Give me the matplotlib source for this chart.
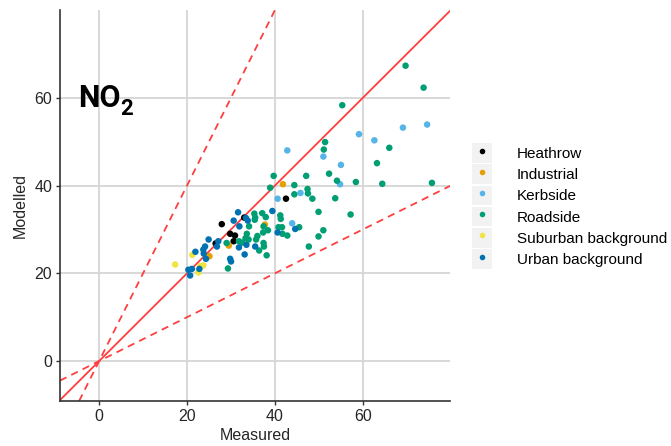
import numpy as np
import matplotlib
matplotlib.use("Agg")
import matplotlib.pyplot as plt
from matplotlib.patches import Rectangle
from matplotlib.lines import Line2D
from matplotlib.legend_handler import HandlerTuple

plt.rcParams['font.family'] = ['Liberation Sans', 'DejaVu Sans']

# measured / modelled NO2 by site type
heathrow_x = [27.9, 29.8, 30.9, 30.6, 26.5, 33.0, 42.5]
heathrow_y = [31.2, 29.0, 28.6, 27.3, 26.8, 32.7, 37.0]

industrial_x = [41.8, 37.7, 29.5, 25.1]
industrial_y = [40.3, 31.1, 26.3, 23.9]

kerbside_x = [42.8, 51.0, 59.1, 62.6, 69.1, 74.6, 55.0, 54.8, 45.8, 40.6, 43.9]
kerbside_y = [48.0, 46.6, 51.7, 50.3, 53.2, 53.9, 44.7, 40.3, 38.3, 37.0, 31.4]

roadside_x = [69.7, 73.8, 55.3, 51.4, 51.1, 66.0, 63.2, 52.3, 47.1, 39.7,
              54.1, 58.4, 64.4, 75.7, 44.4, 38.9, 47.4, 47.5, 44.4, 48.5,
              53.7, 49.9, 57.2, 35.3, 37.1, 37.9, 35.5, 41.2, 41.3, 34.1,
              37.4, 40.8, 41.6, 45.5, 38.4, 37.3, 51.0, 49.9, 41.7, 42.8,
              33.6, 33.3, 34.0, 32.5, 31.8, 35.7, 37.4, 37.5, 36.4, 38.1,
              47.7, 29.3, 29.0, 35.4, 36.0]
roadside_y = [67.3, 62.3, 58.3, 49.9, 48.2, 48.6, 45.1, 42.7, 42.2, 42.2,
              41.1, 40.8, 40.4, 40.6, 40.1, 39.5, 39.2, 38.2, 38.0, 37.0,
              37.1, 34.0, 33.4, 33.6, 33.7, 32.8, 32.7, 33.2, 32.4, 30.7,
              30.7, 30.5, 30.5, 30.5, 29.8, 29.3, 29.8, 28.4, 29.0, 28.6,
              29.0, 28.0, 27.7, 27.0, 27.3, 27.7, 26.9, 26.1, 25.2, 24.1,
              26.1, 21.1, 26.9, 32.2, 28.5]

suburban_x = [17.3, 21.2, 23.0, 23.7, 22.6]
suburban_y = [22.0, 24.2, 21.6, 21.8, 20.2]

urban_x = [31.6, 33.4, 33.8, 30.6, 31.9, 39.4, 24.9, 27.1, 26.8, 24.1,
           23.7, 21.9, 23.8, 24.3, 29.8, 30.0, 31.8, 33.1, 33.5, 35.5,
           40.6, 44.6, 20.3, 21.1, 20.7, 22.8]
urban_y = [33.9, 32.6, 32.0, 32.0, 30.7, 34.2, 27.7, 27.3, 26.1, 26.1,
           25.4, 24.9, 24.5, 23.3, 23.3, 22.7, 25.9, 24.3, 26.5, 26.1,
           29.3, 30.1, 20.8, 21.0, 19.5, 21.0]

groups = [
    ("Heathrow", heathrow_x, heathrow_y, "#000000"),
    ("Industrial", industrial_x, industrial_y, "#E69F00"),
    ("Kerbside", kerbside_x, kerbside_y, "#56B4E9"),
    ("Roadside", roadside_x, roadside_y, "#009E73"),
    ("Suburban background", suburban_x, suburban_y, "#F0E442"),
    ("Urban background", urban_x, urban_y, "#0072B2"),
]

fig = plt.figure(figsize=(6.71, 4.46), dpi=100)
ax = fig.add_axes([0.0894, 0.1009, 0.5812, 0.8767])

ax.set_xlim(-8.9, 79.8)
ax.set_ylim(-9.1, 80.0)
ax.set_xticks([0, 20, 40, 60])
ax.set_yticks([0, 20, 40, 60])
ax.grid(True, color="#D6D6D6", lw=1.3)
ax.set_axisbelow(True)

red = "#FF3E3E"
ax.axline((0, 0), slope=1, color=red, lw=1.3, zorder=2)
ax.axline((0, 0), slope=2, color=red, lw=1.3, ls=(0, (4, 3)), zorder=2)
ax.axline((0, 0), slope=0.5, color=red, lw=1.3, ls=(0, (4, 3)), zorder=2)

handles = []
for name, xs, ys, col in groups:
    ax.scatter(xs, ys, s=22, color=col, edgecolors="none", zorder=3)
    box = Rectangle((0, 0), 1, 1, facecolor="#F2F2F2", edgecolor="none")
    dot = Line2D([], [], ls="none", marker="o", ms=4, color=col, mec="none")
    handles.append((box, dot))

for s in ["top", "right"]:
    ax.spines[s].set_visible(False)
for s in ["left", "bottom"]:
    ax.spines[s].set_color("#333333")
    ax.spines[s].set_linewidth(1.2)
ax.tick_params(length=3, width=1.0, color="#333333", labelsize=11.5,
               labelcolor="#262626", pad=2.5)

ax.set_xlabel("Measured", fontsize=11.5, color="#262626", labelpad=3)
ax.set_ylabel("Modelled", fontsize=11.5, color="#262626", labelpad=5)

ax.text(-4.8, 57.9, "NO", fontsize=22, fontweight="bold", family="Roboto",
        ha="left", va="baseline")
ax.text(4.9, 56.0, "2", fontsize=16, fontweight="bold", family="Roboto",
        ha="left", va="baseline")

fig.legend(handles, [g[0] for g in groups],
           handler_map={tuple: HandlerTuple(ndivide=1, pad=0)},
           loc="center left", bbox_to_anchor=(0.703, 0.538),
           frameon=False, fontsize=11, handlelength=1.35, handleheight=1.6,
           labelspacing=0.1, handletextpad=1.6, borderaxespad=0,
           borderpad=0)

fig.savefig("out.png", dpi=100)
